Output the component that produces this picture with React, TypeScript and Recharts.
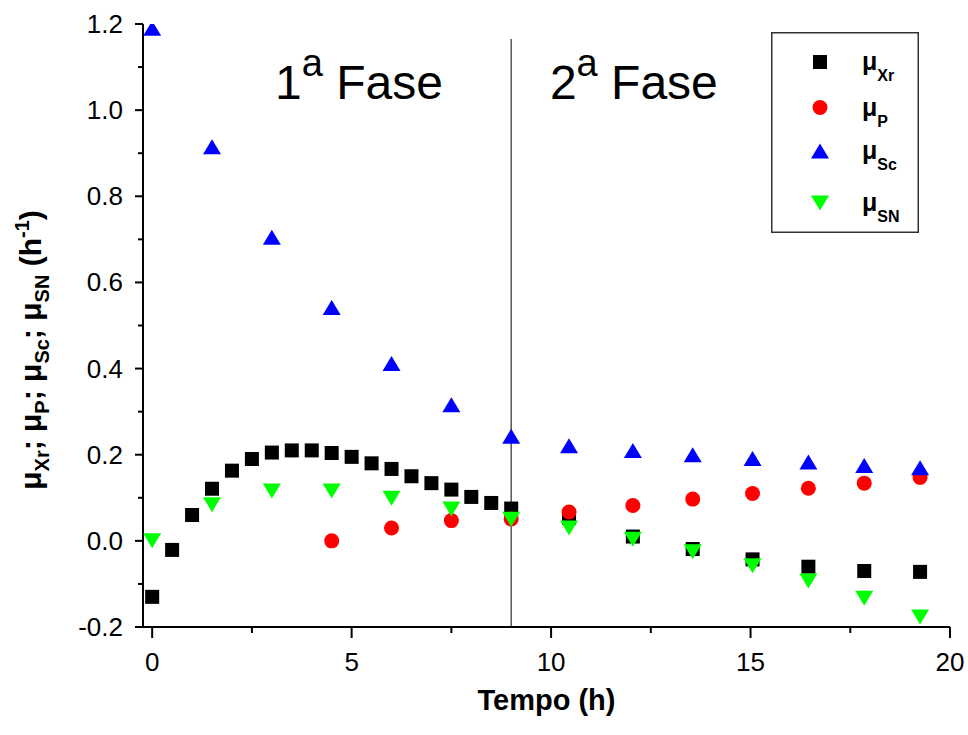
import React from 'react';
import {
  ScatterChart,
  Scatter,
  XAxis,
  YAxis,
  ReferenceLine,
  ReferenceDot,
  Legend,
  Label,
} from 'recharts';

// Specific rates (h^-1) versus time (h)
const timeXr = [0, 0.5, 1, 1.5, 2, 2.5, 3, 3.5, 4, 4.5, 5, 5.5, 6, 6.5, 7, 7.5, 8, 8.5, 9, 10.45, 12.05, 13.55, 15.05, 16.45, 17.85, 19.25];
const muXr = [-0.13, -0.021, 0.06, 0.121, 0.163, 0.19, 0.205, 0.21, 0.21, 0.204, 0.195, 0.18, 0.167, 0.15, 0.134, 0.119, 0.102, 0.088, 0.075, 0.053, 0.01, -0.019, -0.043, -0.06, -0.07, -0.072];

const timeP = [4.5, 6, 7.5, 9, 10.45, 12.05, 13.55, 15.05, 16.45, 17.85, 19.25];
const muP = [0.0, 0.03, 0.047, 0.051, 0.067, 0.082, 0.097, 0.11, 0.122, 0.134, 0.147];

const timeS = [0, 1.5, 3, 4.5, 6, 7.5, 9, 10.45, 12.05, 13.55, 15.05, 16.45, 17.85, 19.25];
const muSc = [1.19, 0.915, 0.705, 0.542, 0.412, 0.316, 0.243, 0.221, 0.21, 0.2, 0.191, 0.183, 0.175, 0.17];
const muSN = [0.0, 0.084, 0.116, 0.116, 0.099, 0.074, 0.05, 0.03, 0.004, -0.025, -0.058, -0.093, -0.133, -0.177];

// Phase boundary and annotation positions (data units)
const phaseBoundary = 9;
const phaseLineTop = 1.165;
const phase1Pos = { x: 3.08, y: 1.0256 };
const phase2Pos = { x: 9.97, y: 1.0256 };

// Axis ticks
const xMajorTicks = [0, 5, 10, 15, 20];
const xTickLabels = ['0', '5', '10', '15', '20'];
const xAllTicks = [0, 2.5, 5, 7.5, 10, 12.5, 15, 17.5, 20];
const yMajorTicks = [-0.2, 0, 0.2, 0.4, 0.6, 0.8, 1.0, 1.2];
const yTickLabels = ['-0.2', '0.0', '0.2', '0.4', '0.6', '0.8', '1.0', '1.2'];
const yAllTicks = [-0.2, -0.1, 0, 0.1, 0.2, 0.3, 0.4, 0.5, 0.6, 0.7, 0.8, 0.9, 1.0, 1.1, 1.2];

const FONT = '"Liberation Sans", Arial, Helvetica, sans-serif';

const toPoints = (t: number[], v: number[]) => t.map((x, i) => ({ x, y: v[i] }));

const dataXr = toPoints(timeXr, muXr);
const dataP = toPoints(timeP, muP);
const dataSc = toPoints(timeS, muSc);
const dataSN = toPoints(timeS, muSN);

// Marker shapes
const SquareMark = ({ cx, cy }: any) => (
  <rect x={cx - 7} y={cy - 7} width={14} height={14} fill="#000000" />
);
const CircleMark = ({ cx, cy }: any) => <circle cx={cx} cy={cy} r={7.5} fill="#ff0000" />;
const UpTriangle = ({ cx, cy }: any) => (
  <polygon points={`${cx},${cy - 7.5} ${cx + 9},${cy + 7.5} ${cx - 9},${cy + 7.5}`} fill="#0000ff" />
);
const DownTriangle = ({ cx, cy }: any) => (
  <polygon points={`${cx - 9},${cy - 7.5} ${cx + 9},${cy - 7.5} ${cx},${cy + 7.5}`} fill="#00ff00" />
);

const findIndex = (list: number[], v: number) => list.findIndex((m) => Math.abs(m - v) < 1e-6);

const XTick = ({ x, y, payload }: any) => {
  const idx = findIndex(xMajorTicks, payload.value);
  const major = idx >= 0;
  return (
    <g>
      <line x1={x} x2={x} y1={y} y2={y + (major ? 11 : 6)} stroke="#000" strokeWidth={2} />
      {major && (
        <text x={x} y={y + 44} textAnchor="middle" fontSize={26} fontFamily={FONT} fill="#000">
          {xTickLabels[idx]}
        </text>
      )}
    </g>
  );
};

const YTick = ({ x, y, payload }: any) => {
  const idx = findIndex(yMajorTicks, payload.value);
  const major = idx >= 0;
  return (
    <g>
      <line x1={x - (major ? 8 : 5)} x2={x} y1={y} y2={y} stroke="#000" strokeWidth={2} />
      {major && (
        <text x={x - 20} y={y + 9} textAnchor="end" fontSize={26} fontFamily={FONT} fill="#000">
          {yTickLabels[idx]}
        </text>
      )}
    </g>
  );
};

const YTitle = ({ viewBox }: any) => {
  const x = viewBox.x + 41;
  const y = viewBox.y + 326;
  const sub = 20;
  return (
    <text
      x={x}
      y={y}
      transform={`rotate(-90, ${x}, ${y})`}
      textAnchor="middle"
      fontFamily={FONT}
      fontWeight="bold"
      fontSize={30}
      fill="#000"
    >
      μ<tspan fontSize={sub} dy={8}>Xr</tspan>
      <tspan dy={-8}>; μ</tspan>
      <tspan fontSize={sub} dy={8}>P</tspan>
      <tspan dy={-8}>; μ</tspan>
      <tspan fontSize={sub} dy={8}>Sc</tspan>
      <tspan dy={-8}>; μ</tspan>
      <tspan fontSize={sub} dy={8}>SN</tspan>
      <tspan dy={-8}> (h</tspan>
      <tspan fontSize={sub} dy={-12}>-1</tspan>
      <tspan dy={12}>)</tspan>
    </text>
  );
};

const XTitle = ({ viewBox }: any) => (
  <text
    x={viewBox.x + viewBox.width / 2}
    y={viewBox.y + 83}
    textAnchor="middle"
    fontFamily={FONT}
    fontWeight="bold"
    fontSize={29}
    fill="#000"
  >
    Tempo (h)
  </text>
);

const PhaseText = (n: string) => ({ cx, cy }: any) => (
  <text x={cx} y={cy} fontFamily={FONT} fontSize={48} fill="#000">
    {n}
    <tspan fontSize={38} dy={-23}>a</tspan>
    <tspan dy={23}> Fase</tspan>
  </text>
);

const legendItems = [
  { sub: 'Xr', Mark: SquareMark },
  { sub: 'P', Mark: CircleMark },
  { sub: 'Sc', Mark: UpTriangle },
  { sub: 'SN', Mark: DownTriangle },
];
const legendRowY = [30, 75.5, 119, 171];

const LegendBox = () => (
  <svg width={148} height={201} style={{ display: 'block' }}>
    <rect x={0.75} y={0.75} width={146.5} height={199.5} fill="#fff" stroke="#333" strokeWidth={1.5} />
    {legendItems.map(({ sub, Mark }, i) => {
      const cy = legendRowY[i];
      return (
        <g key={sub}>
          <Mark cx={49} cy={cy} />
          <text x={91} y={cy + 8} fontFamily={FONT} fontWeight="bold" fontSize={25} fill="#000">
            μ<tspan fontSize={16} dy={11}>{sub}</tspan>
          </text>
        </g>
      );
    })}
  </svg>
);

export default function App() {
  return (
    <div style={{ position: 'absolute', left: 0, top: 0, width: 968, height: 735, background: '#fff' }}>
      <ScatterChart width={968} height={735} margin={{ top: 24, right: 18, bottom: 0, left: 0 }}>
        <XAxis
          type="number"
          dataKey="x"
          domain={[-0.23, 20]}
          allowDataOverflow
          ticks={xAllTicks}
          interval={0}
          tickSize={0}
          tickMargin={0}
          tickLine={false}
          tick={<XTick />}
          height={108}
          axisLine={{ stroke: '#000', strokeWidth: 2 }}
        >
          <Label content={<XTitle />} />
        </XAxis>
        <YAxis
          type="number"
          dataKey="y"
          domain={[-0.2, 1.2]}
          allowDataOverflow
          ticks={yAllTicks}
          interval={0}
          tickSize={0}
          tickMargin={0}
          tickLine={false}
          tick={<YTick />}
          width={143}
          axisLine={{ stroke: '#000', strokeWidth: 2 }}
        >
          <Label content={<YTitle />} />
        </YAxis>
        <ReferenceLine
          segment={[
            { x: phaseBoundary, y: -0.2 },
            { x: phaseBoundary, y: phaseLineTop },
          ]}
          stroke="#555"
          strokeWidth={1.5}
        />
        <ReferenceDot x={phase1Pos.x} y={phase1Pos.y} shape={PhaseText('1')} />
        <ReferenceDot x={phase2Pos.x} y={phase2Pos.y} shape={PhaseText('2')} />
        <Scatter name="μXr" data={dataXr} shape={(p: any) => <SquareMark {...p} />} isAnimationActive={false} />
        <Scatter name="μP" data={dataP} shape={(p: any) => <CircleMark {...p} />} isAnimationActive={false} />
        <Scatter name="μSc" data={dataSc} shape={(p: any) => <UpTriangle {...p} />} isAnimationActive={false} />
        <Scatter name="μSN" data={dataSN} shape={(p: any) => <DownTriangle {...p} />} isAnimationActive={false} />
        <Legend
          layout="vertical"
          align="center"
          verticalAlign="middle"
          wrapperStyle={{ left: 771, top: 32, width: 148, height: 201 }}
          content={() => <LegendBox />}
        />
      </ScatterChart>
    </div>
  );
}
